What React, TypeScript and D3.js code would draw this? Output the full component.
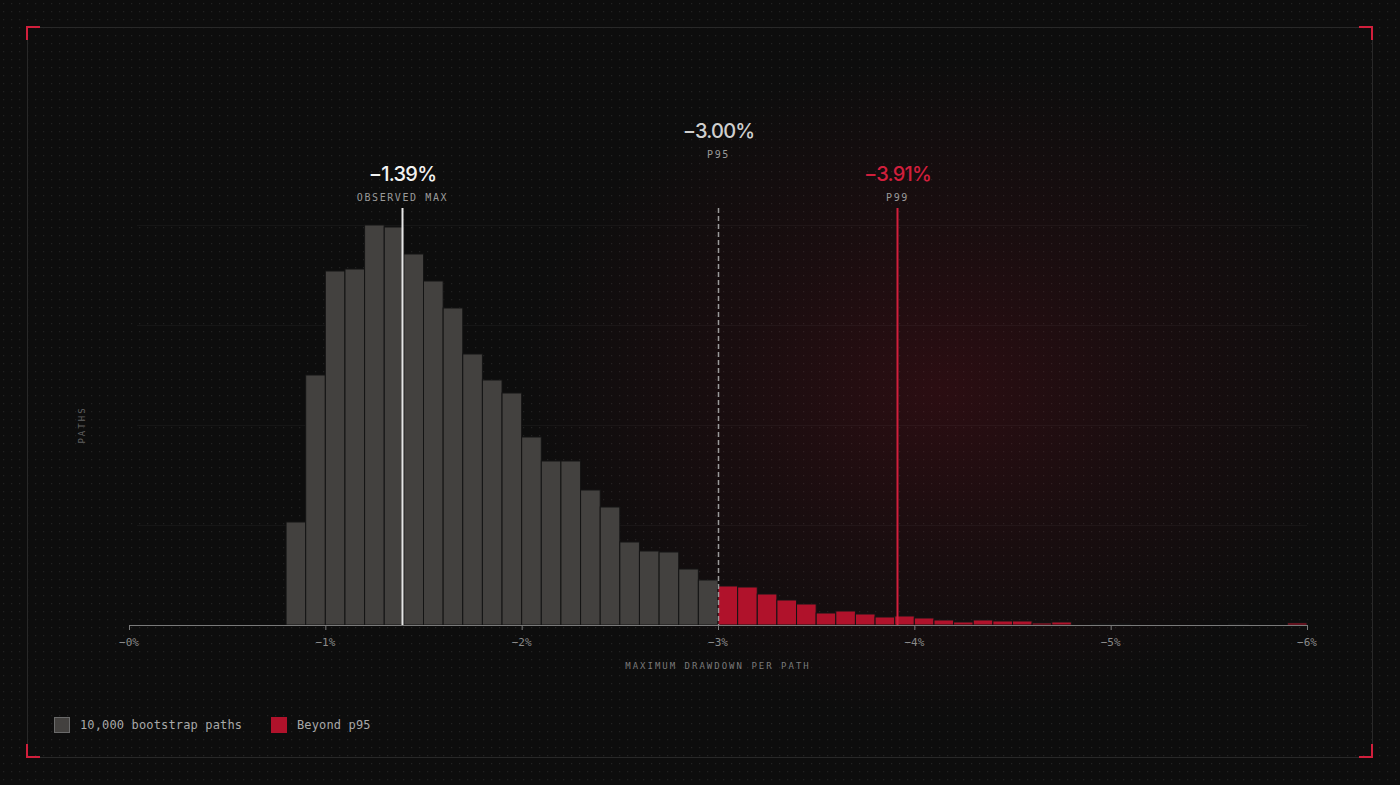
import React, { useEffect, useRef } from 'react';
import * as d3 from 'd3';

// histogram bins: lower edge of each 0.1% drawdown bucket
const binStarts = [
  0, -0.1, -0.2, -0.3, -0.4, -0.5, -0.6, -0.7, -0.8, -0.9,
  -1.0, -1.1, -1.2, -1.3, -1.4, -1.5, -1.6, -1.7, -1.8, -1.9,
  -2.0, -2.1, -2.2, -2.3, -2.4, -2.5, -2.6, -2.7, -2.8, -2.9,
  -3.0, -3.1, -3.2, -3.3, -3.4, -3.5, -3.6, -3.7, -3.8, -3.9,
  -4.0, -4.1, -4.2, -4.3, -4.4, -4.5, -4.6, -4.7, -4.8, -4.9,
  -5.0, -5.1, -5.2, -5.3, -5.4, -5.5, -5.6, -5.7, -5.8, -5.9
];
const binStep = -0.1;

const pathCounts = [
  0, 0, 0, 0, 0, 0, 0, 0, 206, 500,
  708, 712, 800, 796, 742, 688, 634, 542, 490, 464,
  376, 328, 328, 270, 236, 166, 148, 146, 112, 90,
  78, 76, 62, 50, 42, 24, 28, 22, 16, 18,
  14, 10, 6, 10, 8, 8, 4, 6, 0, 2,
  2, 0, 0, 0, 0, 0, 2, 0, 0, 4
];

const xTicks = [0, -1, -2, -3, -4, -5, -6];
const xTickLabels = ['−0%', '−1%', '−2%', '−3%', '−4%', '−5%', '−6%'];
const yGrid = [200, 400, 600, 800];

const markerValues = [-1.39, -3.0, -3.91];
const markerLabels = ['−1.39%', '−3.00%', '−3.91%'];
const markerCaptions = ['OBSERVED MAX', 'P95', 'P99'];

const p95 = -3.0;

const legendLabels = ['10,000 bootstrap paths', 'Beyond p95'];

const W = 1400;
const H = 785;

const GRAY = '#43413f';
const RED = '#b0122b';
const RED_LINE = '#d11f3c';
const MONO = '"DejaVu Sans Mono", "Liberation Mono", monospace';
const SANS = 'Inter, "Noto Sans", sans-serif';

const App: React.FC = () => {
  const svgRef = useRef<SVGSVGElement>(null);

  useEffect(() => {
    if (!svgRef.current) return;
    const svg = d3.select(svgRef.current);
    svg.selectAll('*').remove();

    const x = d3.scaleLinear().domain([0, -6]).range([129, 1307]);
    const y = d3.scaleLinear().domain([0, 800]).range([625, 225]);

    const defs = svg.append('defs');

    // dot grid
    const pattern = defs.append('pattern')
      .attr('id', 'dots')
      .attr('width', 8)
      .attr('height', 8)
      .attr('patternUnits', 'userSpaceOnUse');
    pattern.append('rect').attr('width', 8).attr('height', 8).attr('fill', '#0d0d0d');
    pattern.append('rect').attr('x', 3).attr('y', 3).attr('width', 1.2).attr('height', 1.2).attr('fill', '#222222');

    // red glow behind the tail
    const glow = defs.append('radialGradient')
      .attr('id', 'glow')
      .attr('gradientUnits', 'userSpaceOnUse')
      .attr('cx', 0)
      .attr('cy', 0)
      .attr('r', 1)
      .attr('gradientTransform', 'translate(940,390) scale(420,330)');
    glow.append('stop').attr('offset', '0%').attr('stop-color', '#8a0f22').attr('stop-opacity', 0.24);
    glow.append('stop').attr('offset', '50%').attr('stop-color', '#8a0f22').attr('stop-opacity', 0.1);
    glow.append('stop').attr('offset', '100%').attr('stop-color', '#8a0f22').attr('stop-opacity', 0);

    svg.append('rect').attr('width', W).attr('height', H).attr('fill', 'url(#dots)');
    svg.append('rect').attr('width', W).attr('height', H).attr('fill', 'url(#glow)');

    // frame
    svg.append('rect')
      .attr('x', 27.5).attr('y', 27.5)
      .attr('width', 1345).attr('height', 730)
      .attr('fill', 'none')
      .attr('stroke', '#282828')
      .attr('stroke-width', 1);

    const arm = 13;
    const corners = [
      [27, 27, 1, 1], [1372, 27, -1, 1], [27, 757, 1, -1], [1372, 757, -1, -1]
    ];
    corners.forEach(([cx, cy, sx, sy]) => {
      svg.append('path')
        .attr('d', `M${cx + sx * arm},${cy} L${cx},${cy} L${cx},${cy + sy * arm}`)
        .attr('fill', 'none')
        .attr('stroke', RED_LINE)
        .attr('stroke-width', 2);
    });

    // gridlines
    svg.append('g')
      .selectAll('line')
      .data(yGrid)
      .enter()
      .append('line')
      .attr('x1', 137)
      .attr('x2', 1307)
      .attr('y1', d => y(d) + 0.5)
      .attr('y2', d => y(d) + 0.5)
      .attr('stroke', '#ffffff')
      .attr('stroke-opacity', 0.04);

    // bars
    const bins = binStarts.map((b, i) => ({ x0: b, x1: b + binStep, count: pathCounts[i] }));
    svg.append('g')
      .selectAll('rect')
      .data(bins.filter(d => d.count > 0))
      .enter()
      .append('rect')
      .attr('x', d => x(d.x0))
      .attr('width', d => x(d.x1) - x(d.x0))
      .attr('y', d => y(d.count))
      .attr('height', d => y(0) - y(d.count))
      .attr('fill', d => (d.x0 <= p95 + 1e-9 ? RED : GRAY))
      .attr('stroke', '#141414')
      .attr('stroke-width', 1);

    // baseline axis
    svg.append('line')
      .attr('x1', x(0)).attr('x2', x(-6))
      .attr('y1', y(0) + 0.5).attr('y2', y(0) + 0.5)
      .attr('stroke', '#7a7a7a')
      .attr('stroke-width', 1);

    const ticks = svg.append('g');
    ticks.selectAll('line')
      .data(xTicks)
      .enter()
      .append('line')
      .attr('x1', d => x(d) + 0.5).attr('x2', d => x(d) + 0.5)
      .attr('y1', y(0)).attr('y2', y(0) + 5)
      .attr('stroke', '#7a7a7a');
    ticks.selectAll('text')
      .data(xTicks)
      .enter()
      .append('text')
      .attr('x', d => x(d))
      .attr('y', 646)
      .attr('text-anchor', 'middle')
      .attr('fill', '#8a8a8a')
      .attr('font-family', MONO)
      .attr('font-size', 11)
      .text((d, i) => xTickLabels[i]);

    svg.append('text')
      .attr('x', x(-3))
      .attr('y', 669)
      .attr('text-anchor', 'middle')
      .attr('fill', '#7a7a7a')
      .attr('font-family', MONO)
      .attr('font-size', 9)
      .attr('letter-spacing', 2)
      .text('MAXIMUM DRAWDOWN PER PATH');

    svg.append('text')
      .attr('transform', `translate(85, ${y(400)}) rotate(-90)`)
      .attr('text-anchor', 'middle')
      .attr('fill', '#606060')
      .attr('font-family', MONO)
      .attr('font-size', 9)
      .attr('letter-spacing', 2)
      .text('PATHS');

    // marker lines + labels
    const labelTop = [181, 138, 181];
    const lineColors = ['#e6e6e6', '#9a9a9a', RED_LINE];
    const valueColors = ['#f2f2f2', '#cfcfcf', RED_LINE];
    markerValues.forEach((v, i) => {
      const mx = Math.round(x(v)) + 0.5;
      svg.append('line')
        .attr('x1', mx).attr('x2', mx)
        .attr('y1', 208).attr('y2', y(0))
        .attr('stroke', lineColors[i])
        .attr('stroke-width', i === 1 ? 1.5 : 2)
        .attr('stroke-dasharray', i === 1 ? '5,3' : null);
      svg.append('text')
        .attr('x', mx)
        .attr('y', labelTop[i])
        .attr('text-anchor', 'middle')
        .attr('fill', valueColors[i])
        .attr('font-family', SANS)
        .attr('font-size', 20)
        .attr('font-weight', 500)
        .attr('letter-spacing', -0.8)
        .text(markerLabels[i]);
      svg.append('text')
        .attr('x', mx)
        .attr('y', labelTop[i] + 19.5)
        .attr('text-anchor', 'middle')
        .attr('fill', '#9a9a9a')
        .attr('font-family', MONO)
        .attr('font-size', 10)
        .attr('letter-spacing', 1.6)
        .text(markerCaptions[i]);
    });

    // legend
    const legend = svg.append('g');
    const legendX = [54, 271];
    const legendFill = [GRAY, RED];
    legendLabels.forEach((label, i) => {
      legend.append('rect')
        .attr('x', legendX[i] + 0.5).attr('y', 717.5)
        .attr('width', 15).attr('height', 15)
        .attr('fill', legendFill[i])
        .attr('stroke', i === 0 ? '#6a6a6a' : RED)
        .attr('stroke-width', 1);
      legend.append('text')
        .attr('x', legendX[i] + 26)
        .attr('y', 729)
        .attr('fill', '#a8a8a8')
        .attr('font-family', MONO)
        .attr('font-size', 12)
        .attr('letter-spacing', 0.15)
        .text(label);
    });
  }, []);

  return (
    <div style={{ position: 'absolute', left: 0, top: 0, width: W, height: H, background: '#0d0d0d' }}>
      <svg ref={svgRef} width={W} height={H} viewBox={`0 0 ${W} ${H}`} style={{ display: 'block' }} />
    </div>
  );
};

export default App;
